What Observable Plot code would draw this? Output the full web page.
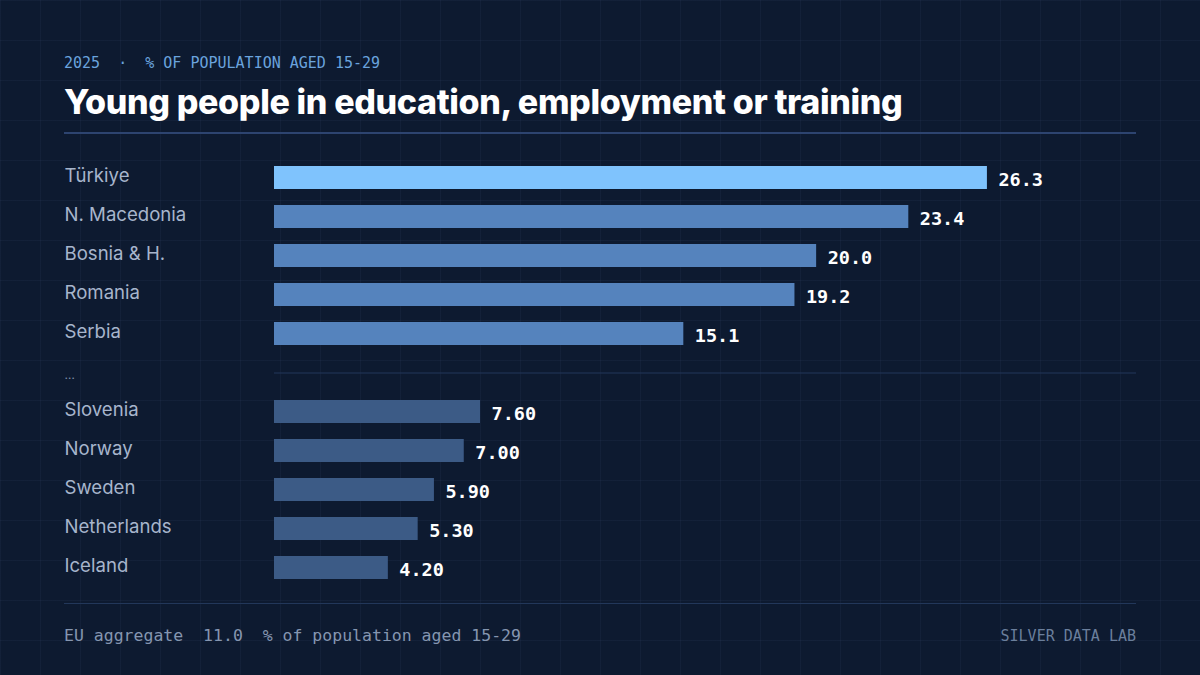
<!DOCTYPE html>
<html>
<head>
<meta charset="utf-8">
<script src="https://cdn.jsdelivr.net/npm/d3@7"></script>
<script src="https://cdn.jsdelivr.net/npm/@observablehq/plot@0.6"></script>
<style>
  html, body { margin: 0; padding: 0; }
  body {
    width: 1200px; height: 675px; overflow: hidden; position: relative;
    background-color: #0d1a30;
    background-image:
      linear-gradient(to right, rgba(120,150,200,0.06) 1px, transparent 1px),
      linear-gradient(to bottom, rgba(120,150,200,0.06) 1px, transparent 1px);
    background-size: 40px 40px;
    font-family: Inter, "Noto Sans", sans-serif;
  }
  .kicker {
    position: absolute; left: 64px; top: 54px;
    font-family: "DejaVu Sans Mono", monospace; font-size: 15px;
    color: #6aa3dd; white-space: pre;
  }
  .title {
    position: absolute; left: 64px; top: 81px;
    font-family: Inter, sans-serif; font-weight: 800; font-size: 34px;
    color: #ffffff; letter-spacing: -0.35px; white-space: nowrap;
  }
  .rule { position: absolute; left: 64px; width: 1072px; height: 1px; }
  .rule.top { top: 132px; background: #2d4470; height: 2px; }
  .rule.bottom { top: 603px; background: #22375a; }
  #chart { position: absolute; left: 0; top: 140px; }
  .foot {
    position: absolute; top: 626px;
    font-family: "DejaVu Sans Mono", monospace; white-space: pre;
  }
  .foot.left { left: 64px; color: #8596b0; font-size: 16.5px; }
  .foot.right { right: 64px; top: 627px; color: #6b7f9c; font-size: 15px; }
</style>
</head>
<body>
<div class="kicker">2025  ·  % OF POPULATION AGED 15-29</div>
<div class="title">Young people in education, employment or training</div>
<div class="rule top"></div>
<div id="chart"></div>
<div class="rule bottom"></div>
<div class="foot left">EU aggregate  11.0  % of population aged 15-29</div>
<div class="foot right">SILVER DATA LAB</div>
<script>
// Data
const countries = ["Türkiye", "N. Macedonia", "Bosnia & H.", "Romania", "Serbia", "…", "Slovenia", "Norway", "Sweden", "Netherlands", "Iceland"];
const values    = [26.3, 23.4, 20.0, 19.2, 15.1, null, 7.60, 7.00, 5.90, 5.30, 4.20];
const valueLabels = ["26.3", "23.4", "20.0", "19.2", "15.1", "", "7.60", "7.00", "5.90", "5.30", "4.20"];
const groups    = ["top1", "top", "top", "top", "top", "gap", "bottom", "bottom", "bottom", "bottom", "bottom"];
const gapLabel = "…";

const rows = countries.map((c, i) => ({country: c, value: values[i], label: valueLabels[i], group: groups[i]}));
const bars = rows.filter(d => d.value != null);
const names = rows.filter(d => d.group !== "gap");

const chart = Plot.plot({
  width: 1200,
  height: 460,
  marginLeft: 274,
  marginRight: 64,
  marginTop: 18,
  marginBottom: 13,
  style: {background: "transparent", overflow: "visible"},
  x: {domain: [0, 31.8], axis: null},
  y: {domain: countries, axis: null, paddingInner: 0.41, paddingOuter: 0.205},
  color: {domain: ["top1", "top", "bottom"], range: ["#7fc3fd", "#5583bd", "#3c5b86"]},
  marks: [
    Plot.ruleY([gapLabel], {y: d => d, stroke: "#22375a", strokeWidth: 1}),
    Plot.barX(bars, {y: "country", x: "value", fill: "group"}),
    Plot.text(bars, {
      y: "country", x: "value", text: "label", textAnchor: "start", dx: 11, dy: 2.5,
      fill: "#ffffff", fontFamily: "DejaVu Sans Mono", fontWeight: "bold", fontSize: 18.5
    }),
    Plot.text(names, {
      y: "country", text: "country", frameAnchor: "left", textAnchor: "start", dx: -210, dy: -2,
      fill: "#a7b5cc", fontFamily: "Inter", fontSize: 18.6
    }),
    Plot.text([gapLabel], {
      y: d => d, text: d => d, frameAnchor: "left", textAnchor: "start", dx: -210, dy: 2,
      fill: "#7f8ea8", fontFamily: "Inter", fontSize: 12
    })
  ]
});
document.getElementById("chart").appendChild(chart);
</script>
</body>
</html>
